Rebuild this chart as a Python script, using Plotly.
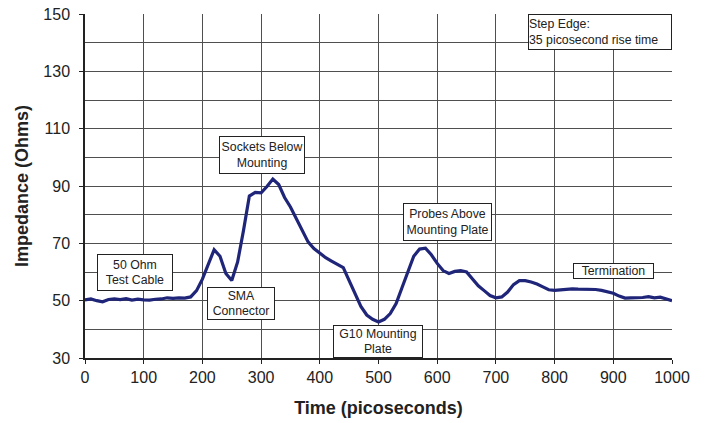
import plotly.graph_objects as go

# Time-domain reflectometry trace: impedance vs. time
time_ps = list(range(0, 1001, 10))
impedance_ohms = [
    50.3, 50.6, 50.0, 49.6, 50.4, 50.6, 50.4, 50.7, 50.2, 50.5,
    50.3, 50.2, 50.5, 50.6, 51.0, 50.8, 51.0, 50.9, 51.3, 53.5,
    57.5, 63.0, 67.8, 65.5, 59.5, 57.0, 63.5, 74.5, 86.5, 87.8,
    87.6, 89.8, 92.4, 90.5, 86.0, 82.7, 78.5, 74.5, 70.5, 68.2,
    66.5, 65.0, 63.8, 62.8, 61.5, 57.0, 52.5, 48.0, 45.0, 43.5,
    42.6, 43.5, 45.5, 49.0, 54.5, 60.0, 65.5, 68.0, 68.3, 66.0,
    63.0, 60.5, 59.5, 60.2, 60.5, 60.0, 57.5, 55.2, 53.5, 51.8,
    51.0, 51.3, 53.0, 55.6, 57.0, 57.0, 56.5, 55.8, 54.8, 53.8,
    53.6, 53.8, 53.9, 54.1, 54.0, 54.0, 53.8, 53.9, 53.6, 53.2,
    52.6, 51.6, 50.9, 51.0, 51.0, 51.1, 51.4, 51.0, 51.2, 50.6,
    50.0,
]

# Callout labels: text, anchor (time, impedance), box width/height in px
callout_text = [
    "50 Ohm<br>Test Cable",
    "SMA<br>Connector",
    "Sockets Below<br>Mounting",
    "G10 Mounting<br>Plate",
    "Probes Above<br>Mounting Plate",
    "Termination",
]
callout_t = [85, 266, 302, 499, 618, 901]
callout_z = [59.9, 49.1, 100.9, 35.9, 77.5, 60.4]
callout_w = [74, 66, 84, 88, 87, 79]
callout_h = [35, 31, 36, 31, 36, 14]

note_text = "Step Edge:<br>35 picosecond rise time"

x_ticks = list(range(0, 1001, 100))
y_ticks = list(range(30, 151, 20))

FONT = "Liberation Sans, Arial, sans-serif"
GRID = "#4f4f4f"

fig = go.Figure()
fig.add_trace(go.Scatter(
    x=time_ps, y=impedance_ohms, mode="lines",
    line=dict(color="#1f2578", width=3.2),
    hoverinfo="skip", showlegend=False,
))

annotations = []
for txt, t, z, w, h in zip(callout_text, callout_t, callout_z, callout_w, callout_h):
    annotations.append(dict(
        x=t, y=z, xref="x", yref="y", text=txt, showarrow=False,
        xanchor="center", yanchor="middle", align="center",
        width=w, height=h, borderpad=0, borderwidth=1,
        bordercolor="#222222", bgcolor="white",
        font=dict(family=FONT, size=12.3, color="#222222"),
    ))
annotations.append(dict(
    x=1000, y=150, xref="x", yref="y", text=note_text, showarrow=False,
    xanchor="right", yanchor="top", align="left",
    width=142, height=34, borderpad=0, borderwidth=1,
    bordercolor="#222222", bgcolor="white",
    font=dict(family=FONT, size=12.3, color="#222222"),
))

fig.update_layout(
    width=707, height=423,
    margin=dict(l=85, r=35, t=14, b=65, autoexpand=False),
    paper_bgcolor="white", plot_bgcolor="white",
    font=dict(family=FONT, size=16, color="#222222"),
    annotations=annotations,
    xaxis=dict(
        range=[0, 1000], tickvals=x_ticks, ticktext=[str(v) for v in x_ticks],
        showgrid=True, gridcolor=GRID, gridwidth=1,
        showline=True, linecolor="#222222", linewidth=1.5, mirror=False,
        ticks="outside", ticklen=4, tickcolor="#222222",
        tickfont=dict(size=16), zeroline=False, automargin=False,
        title=dict(text="<b>Time (picoseconds)</b>", font=dict(size=18), standoff=16),
    ),
    yaxis=dict(
        range=[30, 150], tickvals=y_ticks, ticktext=[str(v) for v in y_ticks],
        showgrid=True, gridcolor=GRID, gridwidth=1,
        minor=dict(tickvals=list(range(40, 150, 20)), showgrid=True,
                   gridcolor=GRID, gridwidth=1),
        showline=True, linecolor="#222222", linewidth=1.5, mirror=False,
        ticks="outside", ticklen=4, tickcolor="#222222",
        tickfont=dict(size=16), ticklabelstandoff=6, zeroline=False,
        automargin=False,
        title=dict(text="<b>Impedance (Ohms)</b>", font=dict(size=18), standoff=10),
    ),
)

fig.write_html("out.html")
